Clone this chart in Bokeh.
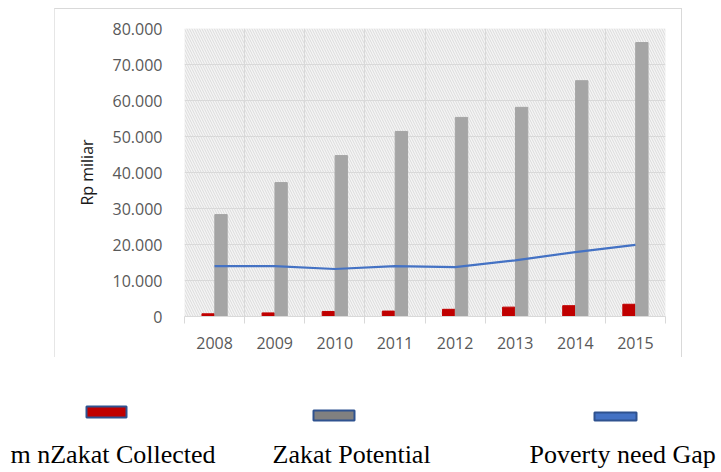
from bokeh.plotting import figure
from bokeh.models import FixedTicker, Range1d, BoxAnnotation, Spacer
from bokeh.layouts import column, row
from bokeh.embed import file_html
from bokeh.resources import INLINE
from bokeh.core.properties import value

# ---- data ----
years = ["2008", "2009", "2010", "2011", "2012", "2013", "2014", "2015"]
zakat_collected = [750, 1000, 1400, 1500, 2000, 2600, 3000, 3400]
zakat_potential = [28300, 37200, 44700, 51400, 55300, 58100, 65500, 76100]
poverty_gap = [14000, 14000, 13200, 14000, 13700, 15600, 17900, 19900]
y_ticks = [0, 10000, 20000, 30000, 40000, 50000, 60000, 70000, 80000]
y_tick_labels = ["0", "10.000", "20.000", "30.000", "40.000", "50.000",
                 "60.000", "70.000", "80.000"]
series_names = ["m nZakat Collected", "Zakat Potential", "Poverty need Gap"]
y_axis_title = "Rp miliar"

# ---- styles ----
RED = "#c00000"
GRAY = "#a5a5a5"
BLUE = "#4472c4"
GRID = "#d9d9d9"
LABEL = "#595959"
FONT = "Open Sans"

n = len(years)
xc = [i + 0.5 for i in range(n)]
bw = 0.205
off = 0.107
x_red = [v - off for v in xc]
x_gray = [v + off for v in xc]

p = figure(width=628, height=349, x_range=Range1d(0, n), y_range=Range1d(0, y_ticks[-1]),
           output_backend="svg", toolbar_location=None,
           min_border_left=129, min_border_right=18, min_border_top=19, min_border_bottom=42)
p.background_fill_color = "#f5f5f5"
p.border_fill_color = "white"
p.outline_line_color = None
p.styles = {"border-top": "1px solid #d9d9d9", "border-right": "1px solid #d9d9d9",
            "border-left": "1px solid #e6e6e6"}

hatch = BoxAnnotation(fill_color=None, line_color=None, hatch_pattern="\\",
                      hatch_color="#d4d4d4", hatch_scale=5, hatch_weight=0.8, level="image")
p.add_layout(hatch)

p.vbar(x=x_red, top=zakat_collected, width=bw, color=RED)
p.vbar(x=x_gray, top=zakat_potential, width=bw, color=GRAY)
p.line(x=xc, y=poverty_gap, line_color=BLUE, line_width=2.2)

# grid
p.xgrid.ticker = FixedTicker(ticks=list(range(n + 1)))
p.ygrid.ticker = FixedTicker(ticks=y_ticks)
for g in (p.xgrid, p.ygrid):
    g.grid_line_color = GRID
    g.grid_line_width = 1

# x axis
xa = p.xaxis[0]
xa.ticker = FixedTicker(ticks=xc, minor_ticks=list(range(n + 1)))
xa.major_label_overrides = {v: y for v, y in zip(xc, years)}
xa.major_tick_in = 0
xa.major_tick_out = 0
xa.minor_tick_in = 0
xa.minor_tick_out = 7
xa.minor_tick_line_color = GRID
xa.axis_line_color = GRID
xa.major_label_standoff = 13
xa.major_label_text_font = FONT
xa.major_label_text_font_size = "16px"
xa.major_label_text_color = LABEL

# y axis
ya = p.yaxis[0]
ya.ticker = FixedTicker(ticks=y_ticks)
ya.major_label_overrides = {v: s for v, s in zip(y_ticks, y_tick_labels)}
ya.axis_line_color = None
ya.major_tick_line_color = None
ya.minor_tick_line_color = None
ya.major_label_standoff = 16
ya.major_label_text_font = FONT
ya.major_label_text_font_size = "16px"
ya.major_label_text_color = LABEL
ya.axis_label = y_axis_title
ya.axis_label_text_font = FONT
ya.axis_label_text_font_size = "16px"
ya.axis_label_text_font_style = "normal"
ya.axis_label_text_color = "#1a1a1a"
ya.axis_label_standoff = 12

# ---- legend (separate strip below) ----
lw, lh = 721, 114
leg = figure(width=lw, height=lh, x_range=Range1d(0, lw), y_range=Range1d(lh, 0),
             output_backend="svg", toolbar_location=None, min_border=0)
leg.axis.visible = False
leg.grid.visible = False
leg.outline_line_color = None
leg.background_fill_color = "white"
leg.border_fill_color = "white"

sw_left = [86, 313, 594]
sw_width = [40, 41, 42]
sw_top = [48, 52, 54]
sw_height = [11, 10, 8]
sw_fill = [RED, "#808080", BLUE]
leg.quad(left=sw_left, right=[a + b for a, b in zip(sw_left, sw_width)],
         top=sw_top, bottom=[a + b for a, b in zip(sw_top, sw_height)],
         fill_color=sw_fill, line_color="#2f528f", line_width=2)

txt_x = [10, 272, 529]
leg.text(x=txt_x, y=[96, 96, 96], text=series_names,
         text_font=value("Liberation Serif"), text_font_size="26px",
         text_color="black", text_baseline="alphabetic", text_align="left")

layout = column(Spacer(width=721, height=8), row(Spacer(width=54, height=350), p), leg)
open("out.html", "w").write(file_html(layout, INLINE))
